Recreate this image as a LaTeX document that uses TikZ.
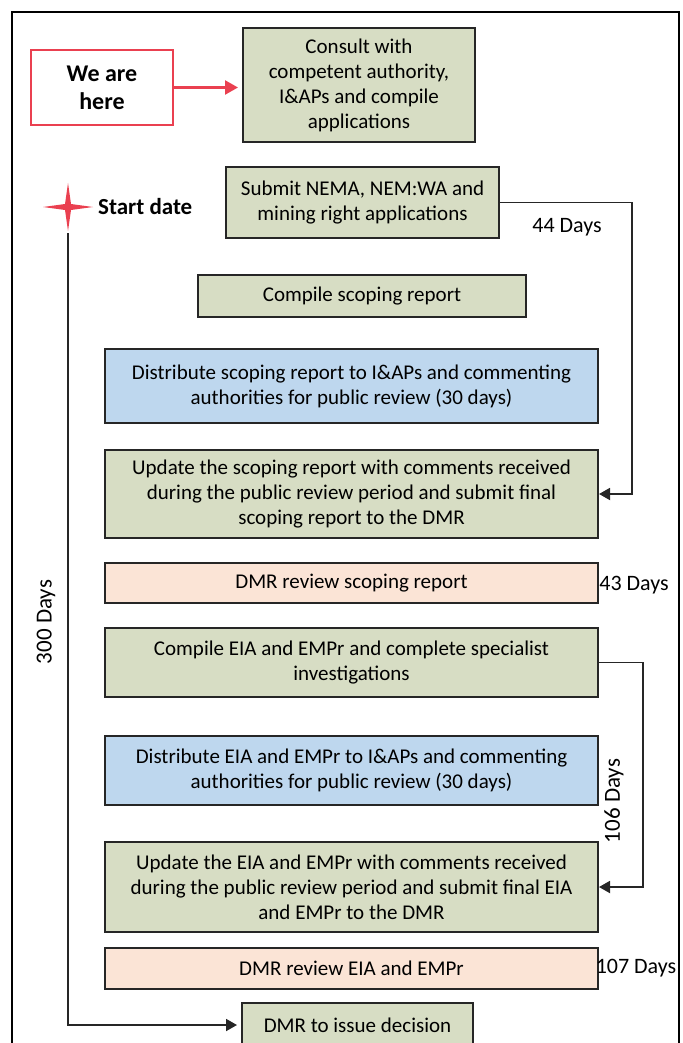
\documentclass[tikz,border=0pt]{standalone}
\usepackage{fontspec}
\setmainfont{Carlito}
\usetikzlibrary{positioning, calc, arrows.meta}

\definecolor{stepgreen}{RGB}{215,221,196}
\definecolor{stepblue}{RGB}{190,215,238}
\definecolor{steppink}{RGB}{251,228,214}
\definecolor{herered}{RGB}{234,64,80}

\tikzset{
  box/.style={draw=black!85, line width=2pt, align=center, inner sep=2pt, font=\fontsize{21}{25}\selectfont},
  greenbox/.style={box, fill=stepgreen},
  bluebox/.style={box, fill=stepblue},
  pinkbox/.style={box, fill=steppink},
  days/.style={font=\fontsize{22}{25}\selectfont, inner sep=0pt},
  flow/.style={draw=black!85, line width=1.8pt, -{Triangle[length=11pt,width=12pt]}},
}

\begin{document}
\begin{tikzpicture}[x=1pt, y=-1pt]
  \useasboundingbox (0,0) rectangle (682,1043);
  \clip (0,0) rectangle (682,1043);
  % outer frame
  \draw[line width=1.2pt] (12,12) rectangle (679,1070);

  \node[draw=herered, line width=2pt, minimum width=142pt, minimum height=75pt,
        align=center, font=\fontsize{24}{28}\selectfont\bfseries] (here) at (102,87.5) {We are\\here};
  \node[greenbox, minimum width=232pt, minimum height=114pt] (consult) at (359,85)
    {Consult with\\competent authority,\\I\&APs and compile\\applications};

  % start marker
  \coordinate (start) at (68,207);
  \fill[herered] (start) +(0,-24) -- +(3,-3) -- +(25,0) -- +(3,3) -- +(0,24) -- +(-3,3) -- +(-25,0) -- +(-3,-3) -- cycle;
  \coordinate (startfoot) at (68,233);
  \node[anchor=west, inner sep=0pt, font=\fontsize{23}{26}\selectfont\bfseries] (startlbl) at (98,207) {Start date};

  \node[greenbox, minimum width=273pt, minimum height=71pt] (submit) at (362.5,202.5)
    {Submit NEMA, NEM:WA and\\mining right applications};
  \node[greenbox, minimum width=328pt, minimum height=42pt] (csr) at (362,296) {Compile scoping report};
  \node[bluebox, minimum width=493pt, minimum height=74pt] (dsr) at (351.5,386)
    {Distribute scoping report to I\&APs and commenting\\authorities for public review (30 days)};
  \node[greenbox, minimum width=493pt, minimum height=88pt] (usr) at (351.5,494)
    {Update the scoping report with comments received\\during the public review period and submit final\\scoping report to the DMR};
  \node[pinkbox, minimum width=493pt, minimum height=40pt] (rsr) at (351.5,583) {DMR review scoping report};
  \node[greenbox, minimum width=493pt, minimum height=69pt] (cei) at (351.5,662.5)
    {Compile EIA and EMPr and complete specialist\\investigations};
  \node[bluebox, minimum width=493pt, minimum height=69pt] (dei) at (351.5,770.5)
    {Distribute EIA and EMPr to I\&APs and commenting\\authorities for public review (30 days)};
  \node[greenbox, minimum width=493pt, minimum height=90pt] (uei) at (351.5,887)
    {Update the EIA and EMPr with comments received\\during the public review period and submit final EIA\\and EMPr to the DMR};
  \node[pinkbox, minimum width=493pt, minimum height=41pt] (rei) at (351.5,968.5) {DMR review EIA and EMPr};
  \node[greenbox, minimum width=231pt, minimum height=44pt] (dec) at (357.5,1025) {DMR to issue decision};

  % durations
  \node[days] (d44) at (567,227) {44 Days};
  \node[days] (d43) at (634,585) {43 Days};
  \node[days, rotate=90, font=\fontsize{23}{25}\selectfont] (d106) at (614,801) {106 Days};
  \node[days] (d107) at (636,968) {107 Days};
  \node[days, rotate=90, font=\fontsize{23}{25}\selectfont] (d300) at (46,622) {300 Days};

  % connectors
  \draw[flow, draw=herered, fill=herered, line width=2.4pt, -{Triangle[length=13pt,width=14pt]}, shorten >=4pt] (here.east) -- (here.east -| consult.west);
  \draw[flow] (submit.east) -- ++(132,0) |- (usr.east);
  \draw[flow] (cei.east) -- ++(44,0) |- (uei.east);
  \draw[flow, shorten >=4pt] (startfoot) |- (dec.west);
\end{tikzpicture}
\end{document}
